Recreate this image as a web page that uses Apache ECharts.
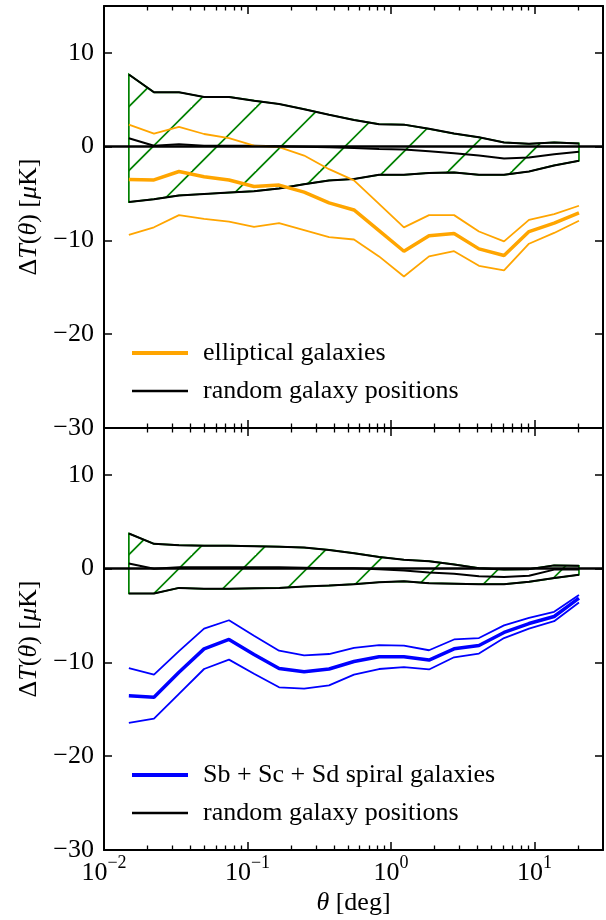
<!DOCTYPE html>
<html>
<head>
<meta charset="utf-8">
<script src="https://cdn.jsdelivr.net/npm/echarts@6.0.0/dist/echarts.min.js"></script>
<style>
  html, body { margin: 0; padding: 0; background: #fff; }
  #main { width: 606px; height: 920px; }
</style>
</head>
<body>
<div id="main"></div>
<script>
// angular bins (deg)
var theta = [0.0149, 0.0223, 0.0333, 0.0498, 0.0743, 0.111, 0.166, 0.248, 0.370, 0.552,
             0.825, 1.23, 1.84, 2.75, 4.10, 6.13, 9.15, 13.7, 20.4];

// upper panel: elliptical galaxies
var ellUp   = [2.35, 1.4, 2.1, 1.35, 0.9, 0.1, -0.05, -0.95, -2.4, -3.6, -6.1, -8.6, -7.3, -7.3, -9.05, -10.1, -7.8, -7.2, -6.3];
var ellMean = [-3.5, -3.55, -2.65, -3.2, -3.55, -4.25, -4.1, -4.85, -6.0, -6.75, -8.95, -11.15, -9.5, -9.25, -10.9, -11.6, -9.05, -8.15, -7.05];
var ellLo   = [-9.4, -8.6, -7.3, -7.7, -8.0, -8.55, -8.15, -8.9, -9.65, -9.9, -11.7, -13.85, -11.7, -11.15, -12.7, -13.2, -10.35, -9.2, -7.9];
// upper panel: random positions
var randUpE   = [7.7, 5.8, 5.8, 5.3, 5.3, 4.9, 4.55, 4.0, 3.4, 2.85, 2.4, 2.35, 1.9, 1.4, 1.0, 0.45, 0.3, 0.45, 0.35];
var randMeanE = [0.9, 0.1, 0.25, 0.1, 0.1, 0.1, 0.05, 0.0, -0.05, -0.15, -0.25, -0.3, -0.5, -0.7, -0.95, -1.25, -1.15, -0.8, -0.55];
var randLoE   = [-5.9, -5.6, -5.2, -5.05, -4.9, -4.75, -4.45, -4.0, -3.6, -3.45, -3.0, -3.0, -2.8, -2.75, -3.0, -3.0, -2.65, -2.0, -1.5];

// lower panel: spiral galaxies
var spUp   = [-10.6, -11.3, -8.8, -6.4, -5.5, -7.15, -8.75, -9.25, -9.1, -8.45, -8.15, -8.2, -8.7, -7.55, -7.4, -6.05, -5.25, -4.6, -2.8];
var spMean = [-13.55, -13.7, -11.05, -8.55, -7.55, -9.15, -10.65, -11.0, -10.7, -9.9, -9.4, -9.4, -9.75, -8.55, -8.2, -6.8, -5.85, -5.1, -3.15];
var spLo   = [-16.45, -16.0, -13.35, -10.7, -9.7, -11.2, -12.65, -12.8, -12.45, -11.3, -10.7, -10.5, -10.75, -9.45, -9.05, -7.4, -6.4, -5.6, -3.6];
// lower panel: random positions
var randUpS   = [3.75, 2.65, 2.5, 2.45, 2.45, 2.4, 2.35, 2.25, 2.0, 1.65, 1.25, 0.95, 0.8, 0.45, 0.05, -0.1, -0.05, 0.35, 0.3];
var randMeanS = [0.55, 0.0, 0.15, 0.15, 0.15, 0.15, 0.15, 0.1, 0.05, 0.05, -0.05, -0.2, -0.4, -0.55, -0.8, -0.9, -0.75, -0.1, -0.1];
var randLoS   = [-2.65, -2.65, -2.05, -2.15, -2.15, -2.1, -2.05, -1.9, -1.8, -1.65, -1.45, -1.35, -1.55, -1.6, -1.65, -1.65, -1.4, -1.0, -0.65];

// axis ranges and ticks
var xRange = [0.01, 30];
var yRange = [-30, 15];
var minorTicks = [0.02, 0.03, 0.04, 0.05, 0.06, 0.07, 0.08, 0.09,
                  0.2, 0.3, 0.4, 0.5, 0.6, 0.7, 0.8, 0.9,
                  2, 3, 4, 5, 6, 7, 8, 9, 20];

var FONT = 'Liberation Serif';
var ORANGE = '#FFA500';
var BLUE = '#0000FF';
var GREEN = '#008000';

function pairs(ys) {
    return theta.map(function (x, i) { return [x, ys[i]]; });
}

// hatch tile: "/" lines, 64px period, anchored to canvas origin
function hatchPattern() {
    var c = document.createElement('canvas');
    c.width = 64;
    c.height = 64;
    var ctx = c.getContext('2d');
    ctx.strokeStyle = GREEN;
    ctx.lineWidth = 1.7;
    [43.5, 107.5].forEach(function (k) {
        ctx.beginPath();
        ctx.moveTo(k + 20, -20);
        ctx.lineTo(-20, k + 20);
        ctx.stroke();
    });
    return { type: 'pattern', image: c, repeat: 'repeat' };
}
var hatch = hatchPattern();

function xAx(grid, pos, labels, name) {
    return {
        type: 'log',
        logBase: 10,
        gridIndex: grid,
        position: pos,
        min: xRange[0],
        max: xRange[1],
        name: name || '',
        nameLocation: 'middle',
        nameGap: 40,
        nameTextStyle: {
            fontSize: 26, color: '#000',
            rich: { i: { fontSize: 26, fontStyle: 'italic', fontFamily: FONT }, n: { fontSize: 26, fontFamily: FONT } }
        },
        axisLine: { show: true, onZero: false, lineStyle: { color: '#000', width: 2 } },
        axisTick: { show: true, inside: true, length: 8, lineStyle: { color: '#000', width: 1.5 } },
        splitLine: { show: false },
        axisLabel: {
            show: labels,
            margin: 4,
            color: '#000',
            showMaxLabel: false,
            formatter: function (v) {
                var e = Math.round(Math.log10(v));
                if (Math.abs(v / Math.pow(10, e) - 1) > 1e-6) return '';
                return '{b|10}{s|' + String(e).replace('-', '\u2212') + '}';
            },
            rich: {
                b: { fontSize: 26, fontFamily: FONT, lineHeight: 32, verticalAlign: 'bottom' },
                s: { fontSize: 18, fontFamily: FONT, lineHeight: 18, verticalAlign: 'top' }
            }
        }
    };
}

function yAx(grid, pos, labels) {
    return {
        type: 'value',
        gridIndex: grid,
        position: pos,
        min: yRange[0],
        max: yRange[1],
        interval: 10,
        name: labels ? '{n|\u0394}{i|T}{n|(}{i|\u03b8}{n|) [}{i|\u03bc}{n|K]}' : '',
        nameLocation: 'middle',
        nameGap: 62,
        nameTextStyle: {
            fontSize: 26, color: '#000',
            rich: { i: { fontSize: 26, fontStyle: 'italic', fontFamily: FONT }, n: { fontSize: 26, fontFamily: FONT } }
        },
        axisLine: { show: true, onZero: false, lineStyle: { color: '#000', width: 2 } },
        axisTick: { show: true, inside: true, length: 8, lineStyle: { color: '#000', width: 1.5 } },
        splitLine: { show: false },
        axisLabel: {
            show: labels,
            margin: 10,
            fontSize: 26,
            fontFamily: FONT,
            color: '#000',
            showMaxLabel: false,
            formatter: function (v) {
                if (v > 10) return '';
                return String(v).replace('-', '\u2212');
            }
        }
    };
}

function line(name, ys, xi, color, width, z) {
    return {
        name: name,
        type: 'line',
        xAxisIndex: xi,
        yAxisIndex: xi,
        data: pairs(ys),
        symbol: 'none',
        z: z || 3,
        lineStyle: { color: color, width: width },
        itemStyle: { color: color }
    };
}

// hatched band between random envelopes
function band(lo, hi, xi) {
    return {
        type: 'custom',
        xAxisIndex: xi,
        yAxisIndex: xi,
        z: 1,
        silent: true,
        data: [[theta[0], lo[0]]],
        renderItem: function (params, api) {
            var pts = [];
            for (var i = 0; i < theta.length; i++) pts.push(api.coord([theta[i], hi[i]]));
            for (var j = theta.length - 1; j >= 0; j--) pts.push(api.coord([theta[j], lo[j]]));
            return {
                type: 'polygon',
                shape: { points: pts },
                style: { fill: hatch, stroke: GREEN, lineWidth: 1.7 }
            };
        }
    };
}

// log minor ticks on top and bottom edge of a panel
function minor(xi) {
    return {
        type: 'custom',
        xAxisIndex: xi,
        yAxisIndex: xi,
        z: 5,
        silent: true,
        clip: false,
        data: minorTicks.map(function (v) { return [v, 0]; }),
        renderItem: function (params, api) {
            var b = api.coord([api.value(0), yRange[0]]);
            var t = api.coord([api.value(0), yRange[1]]);
            var x = Math.round(b[0]) + 0.5;
            return {
                type: 'group',
                children: [
                    { type: 'line', shape: { x1: x, y1: b[1], x2: x, y2: b[1] - 4.5 }, style: { stroke: '#000', lineWidth: 1.3 } },
                    { type: 'line', shape: { x1: x, y1: t[1], x2: x, y2: t[1] + 4.5 }, style: { stroke: '#000', lineWidth: 1.3 } }
                ]
            };
        }
    };
}

function zeroLine(s) {
    s.markLine = {
        silent: true,
        symbol: ['none', 'none'],
        label: { show: false },
        lineStyle: { color: '#000', width: 2.5, type: 'solid' },
        data: [{ yAxis: 0 }]
    };
    return s;
}

function legendBox(name, color, h, top) {
    return {
        left: 127,
        top: top,
        orient: 'vertical',
        selectedMode: false,
        itemWidth: 56,
        itemHeight: h,
        textStyle: { fontSize: 26, fontFamily: FONT, color: '#000', padding: [0, 0, 0, 10] },
        data: [{ name: name, icon: 'rect', itemStyle: { color: color, borderWidth: 0 } }]
    };
}

var chart = echarts.init(document.getElementById('main'));

var option = {
    animation: false,
    backgroundColor: '#fff',
    textStyle: { fontFamily: FONT, color: '#000' },
    grid: [
        { left: 104, top: 6, width: 499, height: 422 },
        { left: 104, top: 428, width: 499, height: 422 }
    ],
    xAxis: [
        xAx(0, 'bottom', false),
        xAx(0, 'top', false),
        xAx(1, 'bottom', true, '{i|\u03b8}{n| [deg]}'),
        xAx(1, 'top', false)
    ],
    yAxis: [
        yAx(0, 'left', true),
        yAx(0, 'right', false),
        yAx(1, 'left', true),
        yAx(1, 'right', false)
    ],
    legend: [
        legendBox('elliptical galaxies', ORANGE, 4, 335),
        legendBox('random galaxy positions', '#000', 2.5, 373),
        legendBox('Sb + Sc + Sd spiral galaxies', BLUE, 4, 757),
        legendBox('random galaxy positions', '#000', 2.5, 795)
    ],
    series: [
        // upper panel
        band(randLoE, randUpE, 0),
        line('random upper', randUpE, 0, '#000', 2),
        line('random lower', randLoE, 0, '#000', 2),
        zeroLine(line('random galaxy positions', randMeanE, 0, '#000', 2)),
        line('elliptical upper', ellUp, 0, ORANGE, 1.8, 4),
        line('elliptical galaxies', ellMean, 0, ORANGE, 3.5, 4),
        line('elliptical lower', ellLo, 0, ORANGE, 1.8, 4),
        minor(0),
        // lower panel
        band(randLoS, randUpS, 2),
        line('random upper', randUpS, 2, '#000', 2),
        line('random lower', randLoS, 2, '#000', 2),
        zeroLine(line('random galaxy positions', randMeanS, 2, '#000', 2)),
        line('spiral upper', spUp, 2, BLUE, 1.8, 4),
        line('Sb + Sc + Sd spiral galaxies', spMean, 2, BLUE, 3.5, 4),
        line('spiral lower', spLo, 2, BLUE, 1.8, 4),
        minor(2)
    ]
};

chart.setOption(option);
</script>
</body>
</html>
